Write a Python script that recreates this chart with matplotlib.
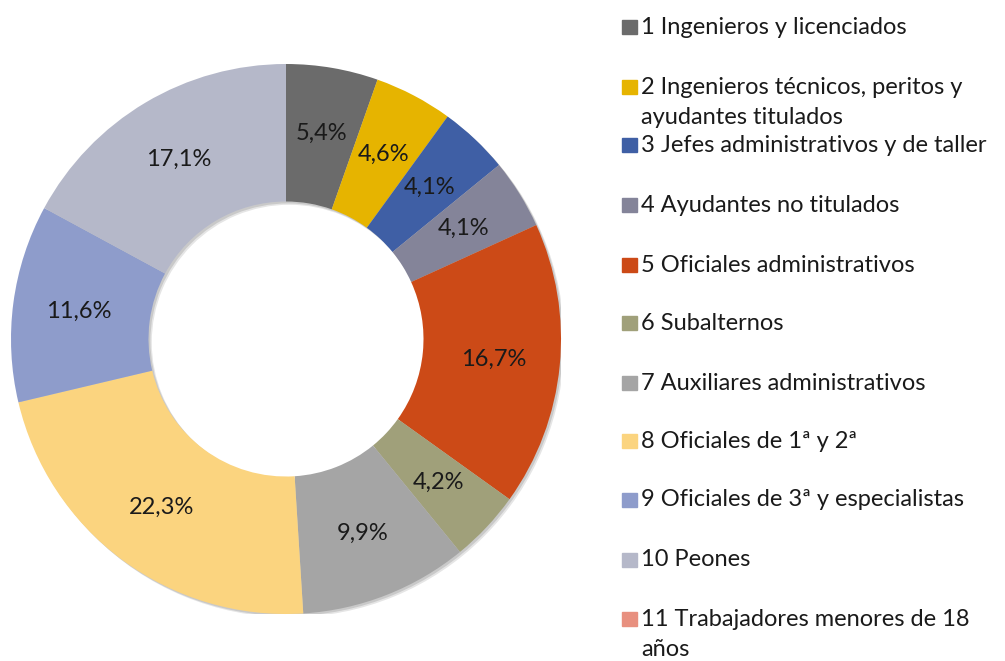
import matplotlib
matplotlib.use("Agg")
import matplotlib.pyplot as plt
from matplotlib.patches import Rectangle, Wedge
import numpy as np

plt.rcParams['font.family'] = ['Lato', 'DejaVu Sans']

# datos
categorias = [
    "1 Ingenieros y licenciados",
    "2 Ingenieros técnicos, peritos y\nayudantes titulados",
    "3 Jefes administrativos y de taller",
    "4 Ayudantes no titulados",
    "5 Oficiales administrativos",
    "6 Subalternos",
    "7 Auxiliares administrativos",
    "8 Oficiales de 1ª y 2ª",
    "9 Oficiales de 3ª y especialistas",
    "10 Peones",
    "11 Trabajadores menores de 18\naños",
]
porcentajes = [5.4, 4.6, 4.1, 4.1, 16.7, 4.2, 9.9, 22.3, 11.6, 17.1, 0.0]
colores = ["#6b6b6b", "#e6b400", "#3f5fa5", "#848499", "#cc4a17", "#a0a07a",
           "#a5a5a5", "#fbd47f", "#8e9ccb", "#b5b8c9", "#e8907f"]

W, H = 1005, 661
fig = plt.figure(figsize=(W / 100, H / 100), dpi=100)

# ejes del anillo (centro ~ (286, 339), radio ~275 px)
cx, cy, r = 286, 339, 275
ax = fig.add_axes([(cx - r) / W, (H - cy - r) / H, 2 * r / W, 2 * r / H])

vals = [v if v > 0 else 1e-9 for v in porcentajes]
wedges, _ = ax.pie(vals, colors=colores, startangle=90, counterclock=False,
                   radius=1.0, wedgeprops=dict(width=0.5, linewidth=0),
                   normalize=True)
for w in wedges:
    w.set_zorder(2)

# sombra suave del anillo
for k, a in [(0.012, 0.10), (0.007, 0.12)]:
    ax.add_patch(Wedge((k, -k), 1.0, 0, 360, width=0.5, color='black', alpha=a, lw=0, zorder=0))

ax.set_xlim(-1, 1)
ax.set_ylim(-1, 1)
ax.set_aspect('equal')
ax.axis('off')

acum = 0.0
for v in porcentajes:
    if v > 0:
        mid = 90 - (acum + v / 2) / 100 * 360
        rr = 0.76
        ax.text(rr * np.cos(np.radians(mid)), rr * np.sin(np.radians(mid)),
                f"{v:.1f}%".replace('.', ','), ha='center', va='center',
                fontsize=17, color='#1a1a1a', zorder=3)
    acum += v

# leyenda
filas_y = [27, 87, 145, 205, 265, 323, 383, 441, 500, 560, 619]
for cat, col, y in zip(categorias, colores, filas_y):
    fig.patches.append(Rectangle((622 / W, (H - y - 7) / H), 15 / W, 14 / H,
                                 transform=fig.transFigure, color=col))
    lineas = cat.split("\n")
    fig.text(641 / W, (H - y) / H, lineas[0], ha='left', va='center',
             fontsize=17, color='#1a1a1a')
    if len(lineas) > 1:
        fig.text(641 / W, (H - y - 31) / H, lineas[1], ha='left', va='center',
                 fontsize=17, color='#1a1a1a')

fig.savefig("out.png", dpi=100)
